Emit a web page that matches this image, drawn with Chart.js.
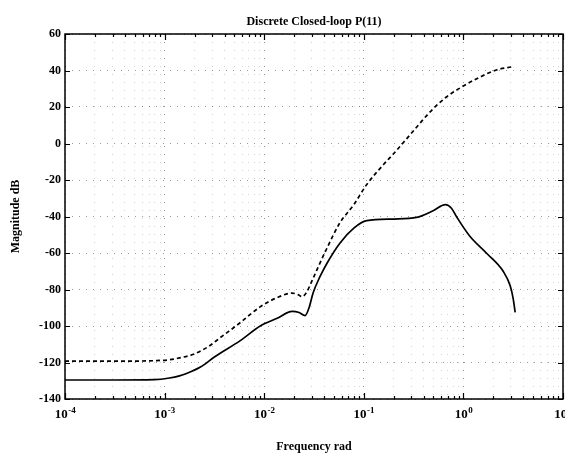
<!DOCTYPE html>
<html>
<head>
<meta charset="utf-8">
<script src="https://cdn.jsdelivr.net/npm/chart.js@4"></script>
<style>
  body { margin: 0; background: #fff; }
  canvas { display: block; }
</style>
</head>
<body>
<canvas id="bode" width="565" height="453"></canvas>
<script>
// frequencies (rad) and magnitudes (dB)
const upperFreq = [1e-4, 3.2e-4, 7.9e-4, 1.12e-3, 1.41e-3, 1.95e-3, 2.8e-3, 3.6e-3, 5.8e-3, 9.1e-3,
  0.0141, 0.019, 0.0219, 0.024, 0.0263, 0.0309, 0.0363, 0.0427, 0.0575, 0.0794,
  0.107, 0.158, 0.2, 0.316, 0.457, 0.676, 1.0, 1.48, 2.14, 3.09];
const upperMag = [-119.3, -119.3, -119, -118.5, -117.5, -115.5, -111, -106.5, -98, -89.5,
  -84, -82, -82.8, -84, -82, -74, -65.5, -57.3, -43.5, -33.5,
  -22.5, -11.5, -5.5, 7, 17, 25.5, 31.5, 36.5, 40.3, 42];

const lowerFreq = [1e-4, 3.2e-4, 7.9e-4, 1.12e-3, 1.41e-3, 1.66e-3, 2.29e-3, 3.16e-3, 5.75e-3, 9.12e-3,
  0.0135, 0.0191, 0.0224, 0.0257, 0.0282, 0.0309, 0.0363, 0.0427, 0.0575, 0.0794,
  0.107, 0.2, 0.339, 0.49, 0.661, 0.759, 0.851, 1.15, 1.7, 2.51, 2.95, 3.16, 3.31];
const lowerMag = [-129.6, -129.6, -129.4, -128.5, -127.3, -126, -122.5, -117, -108, -100,
  -95.8, -92, -92.6, -94.3, -90, -82, -73, -65.6, -54.6, -46.4,
  -42.3, -41.4, -40.5, -37, -33.5, -35.5, -40, -50.5, -60, -70, -78, -85, -92.5];

const decades = [-4, -3, -2, -1, 0, 1];
const magTicks = [60, 40, 20, 0, -20, -40, -60, -80, -100, -120, -140];

const SERIF = '"Liberation Serif", "DejaVu Serif", serif';

const toPoints = (xs, ys) => xs.map((x, i) => ({ x: x, y: ys[i] }));
const isDecade = v => Math.abs(Math.log10(v) - Math.round(Math.log10(v))) < 1e-6;

// frame, inward ticks, x tick labels with superscripts, title
const framePlugin = {
  id: 'frame',
  afterDraw(chart) {
    const { ctx, chartArea: a, scales } = chart;
    const x = scales.x, y = scales.y;
    ctx.save();
    ctx.strokeStyle = '#000';
    ctx.lineWidth = 1.5;
    ctx.setLineDash([]);
    ctx.strokeRect(a.left, a.top, a.right - a.left, a.bottom - a.top);

    ctx.lineWidth = 1.2;
    ctx.beginPath();
    x.ticks.forEach(t => {
      const px = Math.round(x.getPixelForValue(t.value)) + 0.5;
      const len = isDecade(t.value) ? 6 : 3;
      ctx.moveTo(px, a.bottom); ctx.lineTo(px, a.bottom - len);
      ctx.moveTo(px, a.top); ctx.lineTo(px, a.top + len);
    });
    y.ticks.forEach(t => {
      const py = Math.round(y.getPixelForValue(t.value)) + 0.5;
      ctx.moveTo(a.left, py); ctx.lineTo(a.left + 5, py);
      ctx.moveTo(a.right, py); ctx.lineTo(a.right - 5, py);
    });
    ctx.stroke();

    ctx.fillStyle = '#000';
    ctx.textBaseline = 'alphabetic';
    decades.forEach(d => {
      const px = x.getPixelForValue(Math.pow(10, d));
      const base = '10';
      const exp = String(d);
      ctx.font = 'bold 13px ' + SERIF;
      const wb = ctx.measureText(base).width;
      ctx.font = 'bold 9px ' + SERIF;
      const we = ctx.measureText(exp).width;
      const left = px - (wb + we) / 2;
      ctx.font = 'bold 13px ' + SERIF;
      ctx.textAlign = 'left';
      ctx.fillText(base, left, 418);
      ctx.font = 'bold 9px ' + SERIF;
      ctx.fillText(exp, left + wb + 0.5, 413);
    });

    ctx.font = 'bold 12px ' + SERIF;
    ctx.textAlign = 'center';
    ctx.textBaseline = 'middle';
    ctx.fillText('Discrete Closed-loop P(11)', (a.left + a.right) / 2, 22);
    ctx.restore();
  }
};

const gridColor = c => {
  const v = c.tick && c.tick.value;
  if (v === undefined) return 'rgba(0,0,0,0)';
  return isDecade(v) ? 'rgba(70,70,70,0.6)' : 'rgba(110,110,110,0.3)';
};

new Chart(document.getElementById('bode'), {
  type: 'line',
  data: {
    datasets: [
      {
        label: 'upper',
        data: toPoints(upperFreq, upperMag),
        borderColor: '#000',
        borderWidth: 1.7,
        borderDash: [4, 3],
        pointRadius: 0,
        fill: false,
        cubicInterpolationMode: 'monotone'
      },
      {
        label: 'lower',
        data: toPoints(lowerFreq, lowerMag),
        borderColor: '#000',
        borderWidth: 1.7,
        pointRadius: 0,
        fill: false,
        cubicInterpolationMode: 'monotone'
      }
    ]
  },
  options: {
    responsive: false,
    animation: false,
    layout: { padding: { left: 0, right: 2, top: 34, bottom: 0 } },
    plugins: { legend: { display: false }, tooltip: { enabled: false } },
    scales: {
      x: {
        type: 'logarithmic',
        min: 1e-4,
        max: 10,
        afterBuildTicks: s => {
          const t = [];
          decades.forEach(d => {
            if (d === 1) { t.push({ value: 10 }); return; }
            for (let k = 1; k <= 9; k++) t.push({ value: k * Math.pow(10, d) });
          });
          s.ticks = t;
        },
        afterFit: s => { s.height = 54; },
        ticks: { display: false },
        grid: { color: gridColor, lineWidth: 1, drawTicks: false },
        border: { display: false, dash: [1, 7] },
        title: {
          display: true,
          text: 'Frequency rad',
          color: '#000',
          font: { family: SERIF, size: 12, weight: 'bold', lineHeight: 1 },
          padding: { top: 0, bottom: 0 }
        }
      },
      y: {
        min: -140,
        max: 60,
        afterBuildTicks: s => { s.ticks = magTicks.map(v => ({ value: v })); },
        afterFit: s => { s.width = 65; },
        ticks: {
          color: '#000',
          padding: 4,
          font: { family: SERIF, size: 12, weight: 'bold' }
        },
        grid: { color: 'rgba(70,70,70,0.55)', lineWidth: 1, drawTicks: false },
        border: { display: false, dash: [1, 6] },
        title: {
          display: true,
          text: 'Magnitude dB',
          color: '#000',
          font: { family: SERIF, size: 12, weight: 'bold', lineHeight: 1 },
          padding: { top: 10, bottom: 0 }
        }
      }
    }
  },
  plugins: [framePlugin]
});
</script>
</body>
</html>
